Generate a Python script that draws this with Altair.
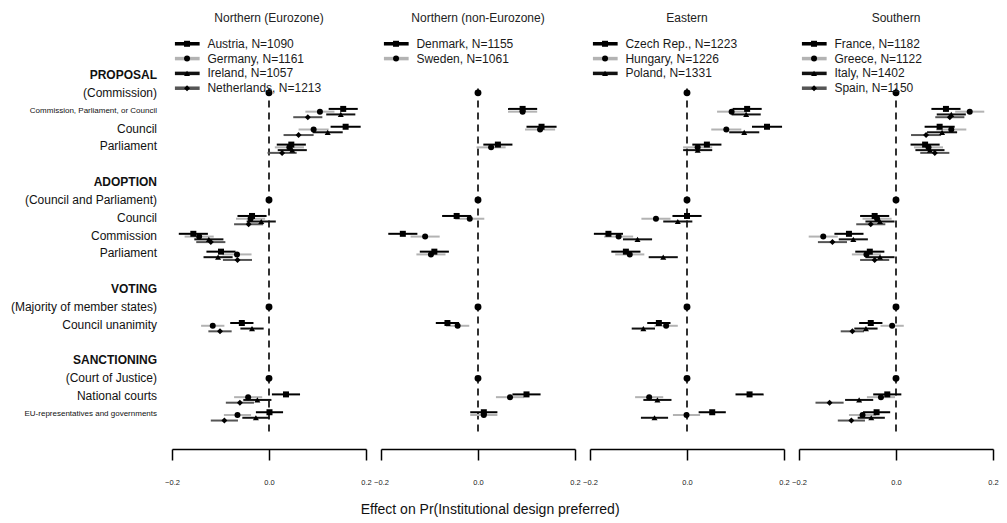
import altair as alt
import pandas as pd

FONT = "Liberation Sans"

# ---------------- data ----------------
regions = ["Northern (Eurozone)", "Northern (non-Eurozone)", "Eastern", "Southern"]
countries = [
    ["Austria", "Germany", "Ireland", "Netherlands"],
    ["Denmark", "Sweden"],
    ["Czech Rep.", "Hungary", "Poland"],
    ["France", "Greece", "Italy", "Spain"],
]
sample_n = [
    [1090, 1161, 1057, 1213],
    [1155, 1061],
    [1223, 1226, 1331],
    [1182, 1122, 1402, 1150],
]

row_labels = [
    "PROPOSAL", "(Commission)", "Commission, Parliament, or Council", "Council", "Parliament", "",
    "ADOPTION", "(Council and Parliament)", "Council", "Commission", "Parliament", "",
    "VOTING", "(Majority of member states)", "Council unanimity", "",
    "SANCTIONING", "(Court of Justice)", "National courts", "EU-representatives and governments",
]
row_kind = [
    "header", "base", "small", "item", "item", "blank",
    "header", "base", "item", "item", "item", "blank",
    "header", "base", "item", "blank",
    "header", "base", "item", "small",
]

# effects in order of the non-baseline rows
estimates = {
    "Austria":     [0.153, 0.158, 0.046, -0.035, -0.156, -0.099, -0.056, 0.035, 0.001],
    "Germany":     [0.105, 0.092, 0.042, -0.038, -0.144, -0.066, -0.116, -0.043, -0.065],
    "Ireland":     [0.148, 0.121, 0.048, -0.016, -0.124, -0.105, -0.035, -0.024, -0.027],
    "Netherlands": [0.080, 0.061, 0.027, -0.042, -0.120, -0.065, -0.101, -0.060, -0.092],
    "Denmark":     [0.092, 0.131, 0.041, -0.044, -0.155, -0.090, -0.063, 0.100, 0.012],
    "Sweden":      [0.092, 0.128, 0.027, -0.017, -0.109, -0.097, -0.042, 0.066, 0.012],
    "Czech Rep.":  [0.124, 0.165, 0.041, 0.000, -0.162, -0.126, -0.058, 0.129, 0.052],
    "Hungary":     [0.092, 0.081, 0.022, -0.064, -0.141, -0.118, -0.043, -0.078, -0.001],
    "Poland":      [0.122, 0.118, 0.022, -0.019, -0.102, -0.049, -0.090, -0.061, -0.067],
    "France":      [0.103, 0.090, 0.060, -0.044, -0.097, -0.054, -0.052, -0.018, -0.040],
    "Greece":      [0.152, 0.114, 0.067, -0.039, -0.150, -0.061, -0.008, -0.031, -0.069],
    "Italy":       [0.114, 0.095, 0.070, -0.033, -0.088, -0.033, -0.062, -0.076, -0.051],
    "Spain":       [0.111, 0.062, 0.080, -0.052, -0.131, -0.044, -0.090, -0.137, -0.092],
}
ci_half = [0.030, 0.031, 0.030, 0.030, 0.030, 0.030, 0.024, 0.029, 0.028]
x_ticks = [-0.2, 0.0, 0.2]

effect_rows = [i for i, k in enumerate(row_kind) if k in ("item", "small")]
base_rows = [i for i, k in enumerate(row_kind) if k == "base"]

# ---------------- layout / style ----------------
PANEL_W = 194
LABEL_W = 149
PLOT_H = 416
ROW_TOP, ROW_BOT = -2.354, 20.96
DODGE0, DODGE = -0.1, 0.155
LEG_Y0, LEG_STEP = -1.75, 0.83
LEG_X0, LEG_X1, LEG_XM, LEG_XT = -0.194, -0.143, -0.169, -0.127
ZERO_FROM, ZERO_TO = 0.75, 20.1

keys = ["0", "1", "2", "3"]
line_colors = ["#000000", "#b3b3b3", "#111111", "#555555"]
shapes = ["square", "circle", "triangle-up", "diamond"]
sizes = [36, 36, 90, 22]

yscale = alt.Scale(domain=[ROW_TOP, ROW_BOT], reverse=True, nice=False, zero=False)
xscale = alt.Scale(domain=[-0.2, 0.2], nice=False, zero=False)
xaxis = alt.Axis(values=x_ticks, format=".1f", title=None, grid=False,
                 labelFontSize=7.5, labelFont=FONT, labelColor="#222222",
                 labelPadding=18, tickSize=11, tickWidth=1.5, tickColor="#000000",
                 domainColor="#000000", domainWidth=1.5, labelFlush=False)
cscale = alt.Scale(domain=keys, range=line_colors)
sscale = alt.Scale(domain=keys, range=shapes)
zscale = alt.Scale(domain=keys, range=sizes)


def X(field):
    return alt.X(field, type="quantitative", scale=xscale, axis=xaxis)


def Y(field):
    return alt.Y(field, type="quantitative", scale=yscale, axis=None)


def panel(p):
    recs, leg = [], []
    for k, c in enumerate(countries[p]):
        for j, r in enumerate(effect_rows):
            e = estimates[c][j]
            recs.append({"k": str(k), "est": e, "lo": e - ci_half[j], "hi": e + ci_half[j],
                         "ypos": r + DODGE0 + DODGE * k})
        leg.append({"k": str(k), "ly": LEG_Y0 + LEG_STEP * k,
                    "label": f"{c}, N={sample_n[p][k]}",
                    "lx0": LEG_X0, "lx1": LEG_X1, "lxm": LEG_XM, "lxt": LEG_XT})
    df = pd.DataFrame(recs)
    dleg = pd.DataFrame(leg)
    dbase = pd.DataFrame({"x": [0.0] * len(base_rows), "y": base_rows})
    dzero = pd.DataFrame({"x": [0.0], "y": [ZERO_FROM], "y2": [ZERO_TO]})

    zero = alt.Chart(dzero).mark_rule(color="#000", strokeWidth=1.6, strokeDash=[7, 5]).encode(
        x=X("x"), y=Y("y"), y2="y2")
    ci = alt.Chart(df).mark_rule(strokeWidth=2).encode(
        x=X("lo"), x2="hi", y=Y("ypos"),
        color=alt.Color("k:N", scale=cscale, legend=None))
    pts = alt.Chart(df).mark_point(filled=True, opacity=1, color="#000").encode(
        x=X("est"), y=Y("ypos"),
        shape=alt.Shape("k:N", scale=sscale, legend=None),
        size=alt.Size("k:N", scale=zscale, legend=None))
    base = alt.Chart(dbase).mark_circle(size=48, color="#000", opacity=1).encode(
        x=X("x"), y=Y("y"))
    lrule = alt.Chart(dleg).mark_rule(strokeWidth=3.5).encode(
        x=X("lx0"), x2="lx1", y=Y("ly"),
        color=alt.Color("k:N", scale=cscale, legend=None))
    lpts = alt.Chart(dleg).mark_point(filled=True, opacity=1, color="#000").encode(
        x=X("lxm"), y=Y("ly"),
        shape=alt.Shape("k:N", scale=sscale, legend=None),
        size=alt.Size("k:N", scale=zscale, legend=None))
    ltxt = alt.Chart(dleg).mark_text(align="left", baseline="middle", fontSize=12,
                                     font=FONT, color="#1a1a1a").encode(
        x=X("lxt"), y=Y("ly"), text="label:N")
    return alt.layer(zero, ci, pts, base, lrule, lpts, ltxt).properties(
        width=PANEL_W, height=PLOT_H,
        title=alt.Title(regions[p], fontSize=12, fontWeight="normal", font=FONT,
                        color="#222", anchor="middle", offset=8))


dl = pd.DataFrame({"row": list(range(len(row_labels))), "label": row_labels, "kind": row_kind})
dl = dl[dl["kind"] != "blank"]


def label_layer(kinds, size, weight):
    return alt.Chart(dl[dl["kind"].isin(kinds)]).mark_text(
        align="right", baseline="middle", fontSize=size, fontWeight=weight,
        font=FONT, color="#111").encode(
        x=alt.value(LABEL_W), y=Y("row"), text="label:N")


labels = alt.layer(
    label_layer(["header"], 12, "bold"),
    label_layer(["base", "item"], 12, "normal"),
    label_layer(["small"], 8, "normal"),
).properties(width=LABEL_W, height=PLOT_H,
             title=alt.Title(" ", fontSize=12, offset=8, font=FONT))

chart = alt.hconcat(
    labels, *[panel(p) for p in range(4)],
    spacing=15, bounds="flush",
    padding={"left": 0, "top": 4, "right": 0, "bottom": 0},
    title=alt.Title("Effect on Pr(Institutional design preferred)", orient="bottom",
                    anchor="middle", fontSize=14, fontWeight="normal", font=FONT,
                    color="#111", offset=17, dx=-13),
).configure(font=FONT, view=alt.ViewConfig(stroke=None))

chart.save("out.html", embed_options={"renderer": "svg", "actions": False})
